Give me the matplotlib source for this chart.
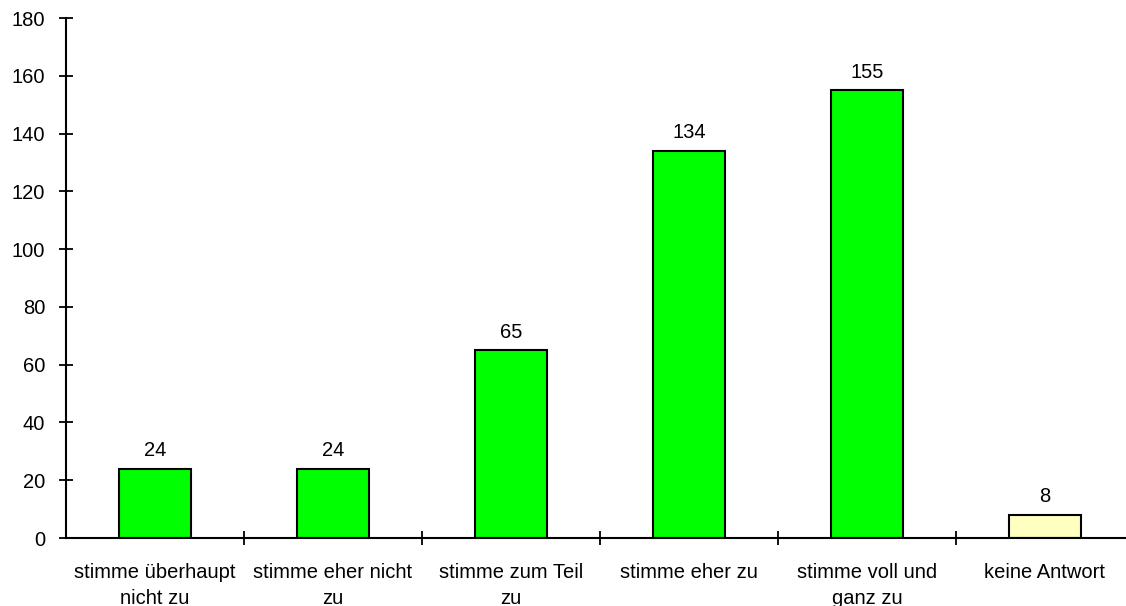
import matplotlib
matplotlib.use("Agg")
import matplotlib.pyplot as plt
import numpy as np

kategorien = [
    "stimme überhaupt\nnicht zu",
    "stimme eher nicht\nzu",
    "stimme zum Teil\nzu",
    "stimme eher zu",
    "stimme voll und\nganz zu",
    "keine Antwort",
]
anzahl = [24, 24, 65, 134, 155, 8]
farben = ["#00ff00", "#00ff00", "#00ff00", "#00ff00", "#00ff00", "#ffffc0"]

plt.rcParams["font.family"] = ["Liberation Sans", "DejaVu Sans"]

fig = plt.figure(figsize=(11.26, 6.06), dpi=100)
ax = fig.add_axes([66 / 1126, 68 / 606, 1068 / 1126, 520 / 606])

x = np.arange(len(anzahl))
ax.bar(x, anzahl, width=0.41, color=farben, edgecolor="black", linewidth=1.5)

for xi, wert in zip(x, anzahl):
    ax.text(xi, wert + 3, str(wert), ha="center", va="bottom", fontsize=14.5)

ax.set_xlim(-0.5, len(anzahl) - 0.5)
ax.set_ylim(0, 180)
ax.set_yticks(range(0, 181, 20))
ax.tick_params(axis="y", direction="inout", length=10, width=1.3, labelsize=14.5, pad=10)

# Striche an den Kategoriegrenzen, Beschriftung in der Mitte
ax.set_xticks(np.arange(len(anzahl)) + 0.5)
ax.set_xticklabels([])
ax.tick_params(axis="x", direction="inout", length=10, width=1.3)
ax.set_xticks(x, minor=True)
ax.set_xticklabels(kategorien, minor=True, fontsize=14.5, linespacing=1.45)
ax.tick_params(axis="x", which="minor", length=0, pad=18)

for s in ["top", "right"]:
    ax.spines[s].set_visible(False)
ax.spines["left"].set_linewidth(1.5)
ax.spines["bottom"].set_linewidth(1.5)

fig.savefig("out.png", dpi=100)
